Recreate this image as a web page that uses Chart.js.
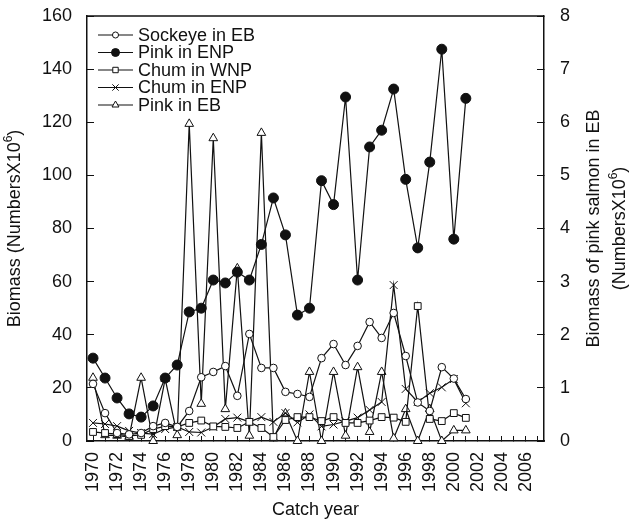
<!DOCTYPE html>
<html>
<head>
<meta charset="utf-8">
<script src="https://cdn.jsdelivr.net/npm/chart.js@4.4.1/dist/chart.umd.min.js"></script>
<style>
  html, body { margin: 0; padding: 0; background: #fff; }
  #wrap { width: 638px; height: 521px; }
</style>
</head>
<body>
<div id="wrap"><canvas id="c" width="638" height="521"></canvas></div>
<script>
// Catch years and catch biomass per stock
const years = [1970, 1971, 1972, 1973, 1974, 1975, 1976, 1977, 1978, 1979,
               1980, 1981, 1982, 1983, 1984, 1985, 1986, 1987, 1988, 1989,
               1990, 1991, 1992, 1993, 1994, 1995, 1996, 1997, 1998, 1999,
               2000, 2001];

// left axis, numbers x 10^6
const sockeyeEB = [21.5, 10.5, 3.0, 2.5, 3.0, 5.6, 6.8, 5.3, 11.3, 24.0,
                   26.0, 28.2, 17.0, 40.3, 27.5, 27.5, 18.5, 17.7, 16.6, 31.2,
                   36.5, 28.6, 35.8, 44.8, 38.8, 48.2, 32.0, 14.5, 11.3, 27.8,
                   23.5, 15.8];
const pinkENP = [31.2, 23.7, 16.2, 10.2, 9.0, 13.2, 23.7, 28.6, 48.6, 50.0,
                 60.6, 59.5, 63.6, 60.6, 74.0, 91.5, 77.6, 47.4, 50.0, 98.0,
                 89.0, 129.5, 60.6, 110.7, 117.0, 132.5, 98.5, 72.7, 105.0, 147.5,
                 76.0, 129.0];
const chumWNP = [3.4, 3.0, 2.6, 1.9, 2.3, 4.5, 5.6, 5.3, 6.8, 7.7,
                 5.5, 5.3, 4.9, 7.2, 4.9, 1.5, 7.9, 9.0, 9.0, 7.5,
                 9.0, 6.8, 6.8, 7.7, 9.0, 8.8, 7.2, 50.8, 8.3, 7.5,
                 10.5, 8.7];
const chumENP = [6.8, 6.4, 5.6, 3.8, 3.0, 2.6, 4.5, 5.3, 3.4, 3.2,
                 5.3, 8.3, 8.8, 7.2, 9.0, 7.2, 10.5, 7.0, 10.0, 5.5,
                 6.2, 7.5, 8.8, 11.7, 14.7, 58.7, 19.6, 14.7, 18.0, 20.2,
                 23.3, 14.2];
// right axis, numbers x 10^6
const pinkEB = [1.19, 0.11, 0.10, 0.08, 1.19, 0.0, 1.17, 0.11, 5.97, 0.70,
                5.70, 0.60, 3.25, 0.10, 5.80, 0.05, 0.52, 0.0, 1.30, 0.0,
                1.30, 0.10, 1.39, 0.17, 1.30, 0.05, 0.60, 0.0, 0.60, 0.0,
                0.20, 0.20];

// tick marks on every year, labels on even years
const tickYears = [];
for (let y = 1970; y <= 2007; y++) tickYears.push(y);
const yearLabels = tickYears.filter(y => y % 2 === 0 && y <= 2006);

const FONT = '"Liberation Sans", Arial, Helvetica, sans-serif';
const INK = '#111';
Chart.defaults.font.family = FONT;
Chart.defaults.font.size = 18;
Chart.defaults.color = INK;

const pts = vals => vals.map((v, i) => ({ x: years[i], y: v }));

function series(label, vals, axis, style, radius, fill) {
  return {
    label, data: pts(vals), yAxisID: axis,
    borderColor: INK, borderWidth: 1.2,
    pointStyle: style, pointRadius: radius, pointHoverRadius: radius,
    pointBackgroundColor: fill, pointBorderColor: INK, pointBorderWidth: 1,
    tension: 0, fill: false, clip: false
  };
}

const datasets = [
  series('Sockeye in EB', sockeyeEB, 'y', 'circle', 3.8, '#fff'),
  series('Pink in ENP', pinkENP, 'y', 'circle', 5, INK),
  series('Chum in WNP', chumWNP, 'y', 'rect', 4.8, '#fff'),
  series('Chum in ENP', chumENP, 'y', 'crossRot', 5.6, '#fff'),
  series('Pink in EB', pinkEB, 'y1', 'triangle', 5, '#fff')
];

function richWidth(ctx, parts) {
  let w = 0;
  for (const p of parts) { ctx.font = p.size + 'px ' + FONT; w += ctx.measureText(p.t).width; }
  return w;
}
// centred run of text pieces, rotated to read bottom-to-top
function drawRotated(ctx, parts, cx, cy) {
  ctx.save();
  ctx.translate(cx, cy);
  ctx.rotate(-Math.PI / 2);
  ctx.textBaseline = 'middle';
  ctx.textAlign = 'left';
  ctx.fillStyle = INK;
  let x = -richWidth(ctx, parts) / 2;
  for (const p of parts) {
    ctx.font = p.size + 'px ' + FONT;
    ctx.fillText(p.t, x, p.dy || 0);
    x += ctx.measureText(p.t).width;
  }
  ctx.restore();
}

const decorations = {
  id: 'decorations',
  afterDraw(chart) {
    const { ctx, chartArea: a } = chart;
    ctx.save();
    // top edge of the frame
    ctx.strokeStyle = INK;
    ctx.lineWidth = 1.5;
    ctx.beginPath();
    ctx.moveTo(a.left, a.top);
    ctx.lineTo(a.right, a.top);
    ctx.stroke();

    // legend: short line with the series marker in its middle
    chart.data.datasets.forEach((ds, i) => {
      const y = a.top + 19 + i * 17.5;
      const x0 = a.left + 11, x1 = a.left + 46, xm = (x0 + x1) / 2;
      ctx.strokeStyle = INK;
      ctx.lineWidth = 1.2;
      ctx.beginPath();
      ctx.moveTo(x0, y);
      ctx.lineTo(x1, y);
      ctx.stroke();
      ctx.fillStyle = ds.pointBackgroundColor;
      ctx.strokeStyle = INK;
      ctx.lineWidth = 1;
      Chart.helpers.drawPoint(ctx, {
        pointStyle: ds.pointStyle, radius: ds.pointRadius * 0.8,
        rotation: 0, borderWidth: 1
      }, xm, y);
      ctx.fillStyle = INK;
      ctx.font = '18px ' + FONT;
      ctx.textAlign = 'left';
      ctx.textBaseline = 'middle';
      ctx.fillText(ds.label, x1 + 5, y + 1);
    });

    // axis titles
    const cy = (a.top + a.bottom) / 2;
    drawRotated(ctx, [
      { t: 'Biomass (NumbersX10', size: 18 },
      { t: '6', size: 12, dy: -6 },
      { t: ')', size: 18 }
    ], 15, cy);
    drawRotated(ctx, [{ t: 'Biomass of pink salmon in EB', size: 18 }], 594, cy);
    drawRotated(ctx, [
      { t: '(NumbersX10', size: 18 },
      { t: '6', size: 12, dy: -6 },
      { t: ')', size: 18 }
    ], 620, cy);

    ctx.fillStyle = INK;
    ctx.font = '18px ' + FONT;
    ctx.textAlign = 'center';
    ctx.textBaseline = 'middle';
    ctx.fillText('Catch year', (a.left + a.right) / 2, 510);
    ctx.restore();
  }
};

const tickGrid = len => ({ drawOnChartArea: false, drawTicks: true, tickLength: len, color: INK, lineWidth: 1 });
const frameBorder = { color: INK, width: 1.5 };
const noPad = s => { s.paddingTop = 0; s.paddingBottom = 0; s.paddingLeft = 0; s.paddingRight = 0; };

new Chart(document.getElementById('c'), {
  type: 'line',
  data: { datasets },
  options: {
    responsive: false,
    animation: false,
    events: [],
    layout: { padding: { top: 16, left: 0, right: 0, bottom: 0 } },
    plugins: { legend: { display: false }, tooltip: { enabled: false } },
    scales: {
      x: {
        type: 'linear', min: 1969.5, max: 2007.5,
        afterBuildTicks: s => { s.ticks = tickYears.map(v => ({ value: v })); },
        afterFit: s => { s.height = 80; noPad(s); },
        ticks: {
          autoSkip: false, minRotation: 90, maxRotation: 90, padding: 16,
          callback: v => yearLabels.includes(v) ? String(v) : ''
        },
        grid: tickGrid(-5),
        border: frameBorder
      },
      y: {
        position: 'left', min: 0, max: 160,
        afterFit: s => { s.width = 87; noPad(s); },
        ticks: { stepSize: 20, padding: 22 },
        grid: tickGrid(-7),
        border: frameBorder
      },
      y1: {
        position: 'right', min: 0, max: 8,
        afterFit: s => { s.width = 94; noPad(s); },
        ticks: { stepSize: 1, padding: 23 },
        grid: tickGrid(-7),
        border: frameBorder
      }
    }
  },
  plugins: [decorations]
});
</script>
</body>
</html>
